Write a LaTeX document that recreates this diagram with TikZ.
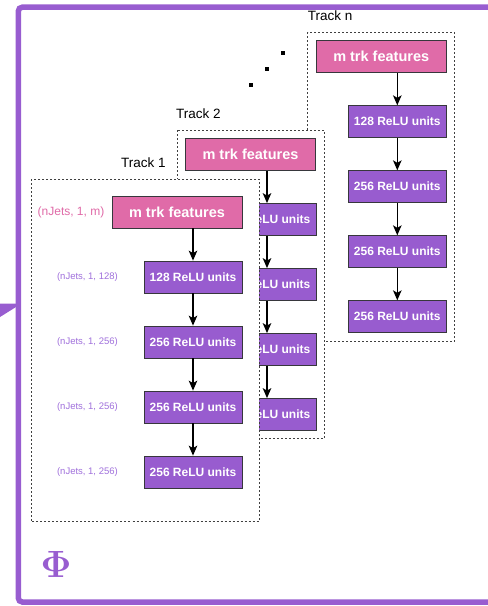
\RequirePackage{fix-cm}
\documentclass[tikz,border=0pt]{standalone}
\usepackage[no-math]{fontspec}
\setmainfont{Liberation Sans}
\usetikzlibrary{arrows.meta}
\definecolor{framepurple}{RGB}{152,93,208}
\definecolor{boxpink}{RGB}{224,107,168}
\definecolor{boxpurple}{RGB}{152,92,207}
\definecolor{dimlabel}{RGB}{160,112,220}
\definecolor{edgegray}{RGB}{55,55,60}

\begin{document}
\begin{tikzpicture}[x=1pt,y=-1pt,
  featbox/.style={draw=edgegray, line width=0.7pt, fill=boxpink, text=white,
    font=\fontsize{14.5}{14.5}\selectfont\bfseries,
    minimum width=130pt, minimum height=32pt, inner sep=0pt},
  relubox/.style={draw=edgegray, line width=0.7pt, fill=boxpurple, text=white,
    font=\fontsize{12}{12}\selectfont\bfseries,
    minimum width=98pt, minimum height=32pt, inner sep=0pt},
  trackframe/.style={draw=black!75, fill=white, line width=0.7pt, dash pattern=on 2pt off 2pt},
  tracklabel/.style={font=\fontsize{13.5}{13.5}\selectfont, inner sep=0pt, anchor=west},
  dimtext/.style={text=dimlabel, font=\fontsize{9.5}{9.5}\selectfont, inner sep=0pt, anchor=east},
  flow/.style={line width=1.4pt, -{Stealth[length=10pt,width=8.5pt,inset=2.5pt]}},
  dotmark/.style={fill=black, minimum size=4pt, inner sep=0pt},
]
\useasboundingbox (0,0) rectangle (488,606);
\clip (0,0) rectangle (488,606);

% outer frame of the Phi network
\draw[framepurple, line width=5.5pt, rounded corners=4pt]
  (500,7.2) -- (18.3,7.2) -- (18.3,602) -- (500,602);
\fill[framepurple] (0,303.5) -- (16,303.5) -- (16,307) -- (0,317) -- cycle;

% ---------- Track n (back) ----------
\path[trackframe] (307.7,32.3) rectangle (454.3,341.7);
\node[tracklabel] (labn) at (307.7,15.7) {Track n};
\node[featbox] (nf) at (381.2,56.7) {m trk features};
\node[relubox] (na) at (397.3,121.7) {128 ReLU units};
\node[relubox] (nb) at (397.3,186.7) {256 ReLU units};
\node[relubox] (nc) at (397.3,251.7) {256 ReLU units};
\node[relubox] (nd) at (397.3,316.7) {256 ReLU units};
\draw[flow] (na.north |- nf.south) -- (na.north);
\draw[flow] (na) -- (nb);
\draw[flow] (nb) -- (nc);
\draw[flow] (nc) -- (nd);

% ellipsis between tracks
\node[dotmark] (d1) at (250.7,85.3) {};
\node[dotmark] (d2) at (267,69) {};
\node[dotmark] (d3) at (283.3,52.7) {};

% ---------- Track 2 ----------
\path[trackframe] (177.3,130) rectangle (324.3,438.3);
\node[tracklabel] (lab2) at (176,114) {Track 2};
\node[featbox] (sf) at (250.5,154.5) {m trk features};
\node[relubox] (sa) at (267,219.5) {128 ReLU units};
\node[relubox] (sb) at (267,284.5) {256 ReLU units};
\node[relubox] (sc) at (267,349.5) {256 ReLU units};
\node[relubox] (sd) at (267,414.5) {256 ReLU units};
\draw[flow] (sa.north |- sf.south) -- (sa.north);
\draw[flow] (sa) -- (sb);
\draw[flow] (sb) -- (sc);
\draw[flow] (sc) -- (sd);

% ---------- Track 1 (front) ----------
\path[trackframe] (31,179) rectangle (259,521.5);
\node[tracklabel] (lab1) at (121,162.7) {Track 1};
\node[featbox] (ff) at (177,212) {m trk features};
\node[relubox] (fa) at (193,277) {128 ReLU units};
\node[relubox] (fb) at (193,342) {256 ReLU units};
\node[relubox] (fc) at (193,407) {256 ReLU units};
\node[relubox] (fd) at (193,472) {256 ReLU units};
\draw[flow] (fa.north |- ff.south) -- (fa.north);
\draw[flow] (fa) -- (fb);
\draw[flow] (fb) -- (fc);
\draw[flow] (fc) -- (fd);

% tensor shapes
\node[text=boxpink, font=\fontsize{12}{12}\selectfont, inner sep=0pt] (sh0) at (71,212) {(nJets, 1, m)};
\node[dimtext] (sh1) at (118,277) {(nJets, 1, 128)};
\node[dimtext] (sh2) at (118,342) {(nJets, 1, 256)};
\node[dimtext] (sh3) at (118,407) {(nJets, 1, 256)};
\node[dimtext] (sh4) at (118,472) {(nJets, 1, 256)};

% network symbol
\node[text=framepurple, font=\fontsize{38}{38}\selectfont, inner sep=0pt] (phi) at (56,564.5) {$\mathbf{\Phi}$};
\end{tikzpicture}
\end{document}
